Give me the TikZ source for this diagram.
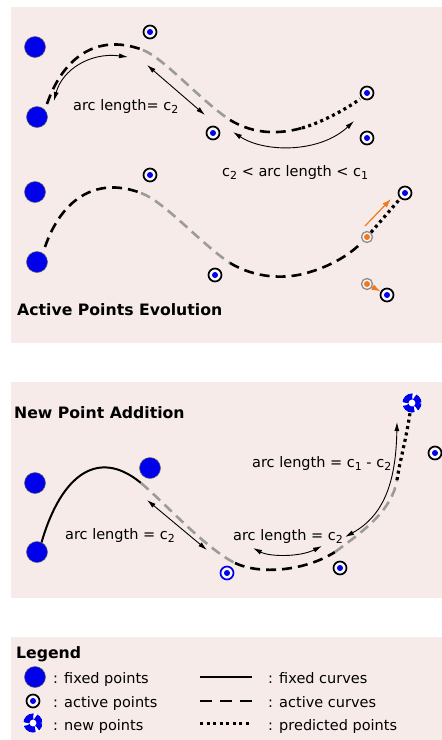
\documentclass[tikz,border=0pt]{standalone}
\usepackage{fontspec}
\setmainfont{DejaVu Sans}
\usetikzlibrary{arrows.meta}
\definecolor{bgpink}{RGB}{246,235,232}
\definecolor{ptblue}{RGB}{0,0,235}
\definecolor{dashgray}{RGB}{155,155,155}
\definecolor{arrorange}{RGB}{240,120,30}
\newcommand\sbs[1]{\raisebox{-0.4ex}{\fontsize{11}{11}\selectfont #1}}
\begin{document}
\begin{tikzpicture}[x=1pt,y=-1pt,
  panel/.style={fill=bgpink,draw=none},
  fixedpt/.style={circle,fill=ptblue,draw=black!60,line width=0.5pt,minimum size=21pt,inner sep=0pt},
  activept/.style={circle,draw=#1,line width=1.7pt,fill=bgpink!40!white,minimum size=13pt,inner sep=0pt,
     path picture={\fill[ptblue] (path picture bounding box.center) circle (3pt);}},
  activept/.default=black,
  oldpt/.style={circle,draw=black!45,line width=1.3pt,fill=bgpink!40!white,minimum size=11pt,inner sep=0pt,
     path picture={\fill[arrorange] (path picture bounding box.center) circle (3pt);}},
  newpt/.style={circle,fill=white,minimum size=20pt,inner sep=0pt,
     path picture={\draw[ptblue,line width=6pt,dash pattern=on 10.07pt off 2.5pt,dash phase=2.6pt]
       (path picture bounding box.center) circle (6.5pt);}},
  activecurve/.style={line width=2.6pt,dash pattern=on 10pt off 6pt},
  graycurve/.style={activecurve,draw=dashgray},
  predcurve/.style={line width=3.2pt,dash pattern=on 3pt off 3.5pt},
  fixedcurve/.style={line width=2pt},
  measure/.style={line width=0.9pt,{Latex[length=9pt,width=5pt]}-{Latex[length=9pt,width=5pt]}},
  motion/.style={line width=1.2pt,draw=arrorange,-{Latex[length=9pt,width=6pt]}},
  lbl/.style={font=\fontsize{14.5}{17}\selectfont,inner sep=0pt,anchor=base west},
  ttl/.style={font=\fontsize{15.7}{18}\selectfont\bfseries,inner sep=0pt,anchor=base west},
  leg/.style={font=\fontsize{14.5}{17}\selectfont,inner sep=0pt,anchor=base west}
]
\useasboundingbox (0,0) rectangle (442,740);
\fill[white] (0,0) rectangle (442,740);
% panels
\fill[panel] (11,7) rectangle (442,343);
\fill[panel] (11,382) rectangle (442,598);
\fill[panel] (11,637) rectangle (442,740);

%% ---------- Panel 1, upper ----------
\draw[activecurve] (47,104) .. controls (62,60) and (95,32) .. (143,50);
\draw[graycurve] (143,50) .. controls (165,59) and (200,100) .. (230,120);
\draw[activecurve] (230,120) .. controls (255,135) and (280,134) .. (302,128);
\draw[predcurve] (302,128) .. controls (320,123) and (345,110) .. (360,99);

\node[fixedpt] (f1) at (35,47) {};
\node[fixedpt] (f2) at (37,117) {};
\node[activept] (a1) at (150,32) {};
\node[activept] (a2) at (367,93) {};
\node[activept] (a3) at (213,133) {};
\node[activept] (a4) at (367,138) {};

\coordinate (m1a) at (54,101);
\coordinate (m1b) at (128,57);
\coordinate (m2a) at (147,65);
\coordinate (m2b) at (205,115);
\coordinate (m3a) at (233,132);
\coordinate (m3b) at (354,121);
\draw[measure] (m1a) .. controls (62,70) and (90,52) .. (m1b);
\draw[measure] (m2a) -- (m2b);
\draw[measure] (m3a) .. controls (265,153) and (320,153) .. (m3b);

\node[lbl] (l1) at (73,110) {arc length= c\sbs{2}};
\node[lbl] (l2) at (222,176) {c\sbs{2} < arc length < c\sbs{1}};

%% ---------- Panel 1, lower ----------
\draw[activecurve] (45,247) .. controls (60,203) and (93,175) .. (141,193);
\draw[graycurve] (141,193) .. controls (165,202) and (200,243) .. (230,263);
\draw[activecurve] (230,263) .. controls (255,278) and (285,280) .. (310,272)
   .. controls (330,266) and (350,255) .. (362,242);

\node[fixedpt] (f3) at (35,192) {};
\node[fixedpt] (f4) at (37,262) {};
\node[activept] (b1) at (150,175) {};
\node[activept] (b2) at (405,193) {};
\node[activept] (b3) at (215,275) {};
\node[activept] (b4) at (387,295) {};
\node[oldpt] (o1) at (367,237) {};
\node[oldpt] (o2) at (367,284) {};
\draw[predcurve] (o1) -- (b2);

\coordinate (r1a) at (365,226);
\coordinate (r1b) at (391,199);
\draw[motion] (r1a) -- (r1b);
\draw[motion] (o2) -- (b4);

\node[ttl] (t1) at (17,315) {Active Points Evolution};

%% ---------- Panel 2 ----------
\draw[fixedcurve] (40,548) .. controls (58,480) and (95,445) .. (141,483);
\draw[graycurve] (141,483) .. controls (166,504) and (205,548) .. (235,563);
\draw[activecurve] (235,563) .. controls (260,575) and (305,571) .. (335,552);
\draw[graycurve] (335,552) .. controls (365,530) and (392,510) .. (397,480);
\draw[predcurve] (397,480) .. controls (400,460) and (406,440) .. (410,413);

\node[fixedpt] (g1) at (35,483) {};
\node[fixedpt] (g2) at (150,468) {};
\node[fixedpt] (g3) at (37,552) {};
\node[activept=ptblue] (c1) at (227,573) {};
\node[activept] (c2) at (340,568) {};
\node[activept] (c3) at (435,453) {};
\node[newpt] (n1) at (412,403) {};

\coordinate (p1a) at (147,500);
\coordinate (p1b) at (207,550);
\coordinate (p2a) at (253,548);
\coordinate (p2b) at (322,546);
\coordinate (p3a) at (397,422);
\coordinate (p3b) at (345,537);
\draw[measure] (p1a) -- (p1b);
\draw[measure] (p2a) .. controls (270,557) and (300,557) .. (p2b);
\draw[measure] (p3a) .. controls (396,480) and (385,515) .. (p3b);

\node[ttl] (t2) at (14,418) {New Point Addition};
\node[lbl] (l3) at (65,539) {arc length = c\sbs{2}};
\node[lbl] (l4) at (233,540) {arc length = c\sbs{2}};
\node[lbl] (l5) at (252,467) {arc length = c\sbs{1} - c\sbs{2}};

%% ---------- Legend ----------
\node[ttl] (t3) at (16,658) {Legend};
\node[fixedpt] (kf) at (35,677) {};
\node[activept] (ka) at (33,701) {};
\node[newpt] (kn) at (33,723) {};
\node[leg] (kt1) at (53,683) {: fixed points};
\node[leg] (kt2) at (53,707) {: active points};
\node[leg] (kt3) at (53,730) {: new points};

\coordinate (s1a) at (200,677);
\coordinate (s1b) at (252,677);
\coordinate (s2a) at (200,701);
\coordinate (s2b) at (252,701);
\coordinate (s3a) at (200,723);
\coordinate (s3b) at (252,723);
\draw[fixedcurve] (s1a) -- (s1b);
\draw[line width=2.6pt,dash pattern=on 12pt off 8pt] (s2a) -- (s2b);
\draw[line width=3pt,dash pattern=on 3pt off 3.5pt] (s3a) -- (s3b);
\node[leg] (kt4) at (268,683) {: fixed curves};
\node[leg] (kt5) at (268,707) {: active curves};
\node[leg] (kt6) at (268,730) {: predicted points};
\end{tikzpicture}
\end{document}
